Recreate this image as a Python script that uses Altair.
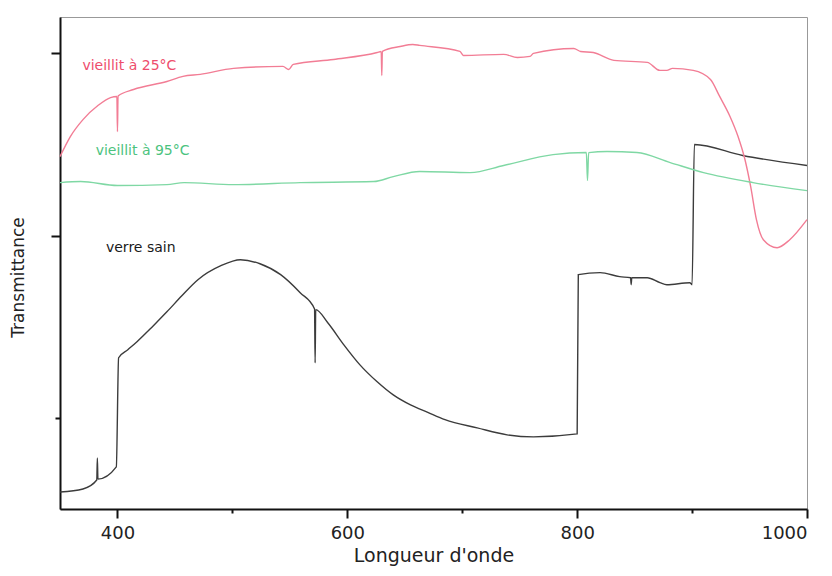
import altair as alt
import pandas as pd

# verre sain (black)
black_x = [350, 370, 382, 382.5, 383, 399, 401, 409, 417, 430, 443, 456, 470, 490, 507,
           524, 542, 559, 571.5, 572, 572.5, 583, 597, 611, 626, 640, 655, 670, 685,
           713, 739, 762, 800, 801, 820, 837, 846.5, 847, 847.5, 861, 872, 878,
           898, 900, 902, 944, 1000]
black_y = [0.93, 1.10, 1.59, 2.80, 1.64, 2.31, 8.30, 8.74, 9.18, 9.98, 10.82, 11.70,
           12.58, 13.35, 13.68, 13.46, 12.86, 11.87, 10.98, 8.02, 10.94, 10.22, 9.01,
           7.91, 6.98, 6.26, 5.71, 5.30, 4.90, 4.45, 4.07, 3.96, 4.12, 12.86,
           12.97, 12.75, 12.69, 12.31, 12.69, 12.69, 12.42, 12.31, 12.42, 12.31, 20.0,
           19.40, 18.85]

# vieillit à 25°C (pink)
pink_x = [350, 359, 370, 383, 394, 399.5, 400, 400.5, 414, 443, 457, 472, 501, 544,
          549, 553, 588, 626, 629.5, 630, 630.5, 646, 657, 663, 698, 701, 736, 748,
          759, 762, 797, 803, 814, 832, 861, 872, 878, 883, 901, 916, 924, 933, 940,
          946, 951, 956, 962, 974, 985, 1000]
pink_y = [19.34, 20.44, 21.37, 22.14, 22.58, 22.64, 20.71, 22.66, 23.02, 23.46, 23.74,
          23.85, 24.18, 24.29, 24.12, 24.40, 24.67, 25.05, 25.11, 23.79, 25.12, 25.38,
          25.49, 25.44, 25.11, 24.89, 24.95, 24.78, 24.84, 25.00, 25.27, 25.11, 25.05,
          24.62, 24.51, 24.07, 24.07, 24.18, 24.07, 23.57, 22.64, 21.54, 20.44, 19.18,
          17.69, 15.88, 14.78, 14.34, 14.78, 15.88]

# vieillit à 95°C (green)
green_x = [350, 368, 400, 443, 458, 501, 559, 623, 640, 663, 707, 736, 779, 808, 809,
           810, 826, 852, 881, 910, 953, 1000]
green_y = [17.91, 17.97, 17.75, 17.80, 17.91, 17.80, 17.91, 17.97, 18.24, 18.52, 18.46,
           18.85, 19.45, 19.56, 18.02, 19.56, 19.62, 19.56, 19.01, 18.46, 17.91, 17.47]

series_names = ["verre sain", "vieillit à 25°C", "vieillit à 95°C"]
line_colors = ["#3c3c3c", "#f27d95", "#7fd8a4"]
text_colors = ["#1a1a1a", "#ee4d6c", "#4cc37e"]

label_text = ["vieillit à 25°C", "vieillit à 95°C", "verre sain"]
label_x = [369.5, 381, 390]
label_y = [24.29, 19.67, 14.34]

x_ticks = [400, 500, 600, 700, 800, 900, 1000]
y_ticks = [5, 15, 25]

rows = []
for name, xs, ys in [(series_names[0], black_x, black_y),
                     (series_names[1], pink_x, pink_y),
                     (series_names[2], green_x, green_y)]:
    for i, (a, b) in enumerate(zip(xs, ys)):
        rows.append({"serie": name, "x": a, "y": b, "order": i})
df = pd.DataFrame(rows)
labels = pd.DataFrame({"serie": [series_names[1], series_names[2], series_names[0]],
                       "text": label_text, "x": label_x, "y": label_y})

xscale = alt.Scale(domain=[350, 1000], nice=False, zero=False)
yscale = alt.Scale(domain=[0, 27], nice=False, zero=False)

x_axis = alt.Axis(
    values=x_ticks, format="d",
    labelExpr="datum.value % 200 === 0 ? datum.label : ''",
    grid=False, domainColor="#111111", domainWidth=2,
    tickColor="#111111", tickWidth=2,
    tickSize={"condition": {"test": "datum.value % 200 === 0", "value": 9}, "value": 4},
    labelFont="DejaVu Sans", labelFontSize=18, labelColor="#222222", labelPadding=6,
    title="Longueur d'onde", titleFont="DejaVu Sans", titleFontSize=19,
    titleFontWeight="normal", titleColor="#222222", titleY=52,
    titleBaseline="alphabetic",
)
y_axis = alt.Axis(
    values=y_ticks, labels=False, grid=False,
    domainColor="#111111", domainWidth=2, tickColor="#111111", tickWidth=2,
    tickSize={"condition": {"test": "datum.value === 5", "value": 5}, "value": 9},
    title="Transmittance", titleFont="DejaVu Sans", titleFontSize=17,
    titleFontWeight="normal", titleColor="#222222", titleX=-42, titleY=260,
    titleAngle=270, titleAlign="center", titleBaseline="middle",
)

lines = alt.Chart(df).mark_line(strokeWidth=1.4, interpolate="monotone").encode(
    x=alt.X("x:Q", scale=xscale, axis=x_axis),
    y=alt.Y("y:Q", scale=yscale, axis=y_axis),
    color=alt.Color("serie:N", scale=alt.Scale(domain=series_names, range=line_colors),
                    legend=None),
    detail="serie:N",
    order="order:Q",
)

texts = alt.Chart(labels).mark_text(align="left", baseline="middle",
                                    font="DejaVu Sans", fontSize=14).encode(
    x=alt.X("x:Q", scale=xscale),
    y=alt.Y("y:Q", scale=yscale),
    text="text:N",
    color=alt.Color("serie:N", scale=alt.Scale(domain=series_names, range=text_colors),
                    legend=None),
)

chart = alt.layer(lines, texts).resolve_scale(color="independent").properties(
    width=747, height=492,
    padding={"left": 52, "top": 9, "right": 16, "bottom": 59},
    autosize=alt.AutoSizeParams(type="none"),
).configure_view(stroke="#999999", strokeWidth=1)

chart.save("out.html", embed_options={"renderer": "svg", "actions": False})
